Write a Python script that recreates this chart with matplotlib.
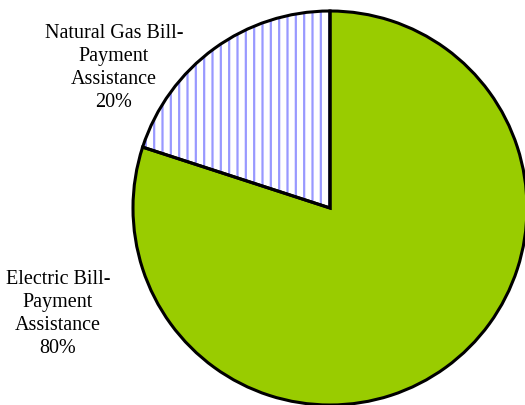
import matplotlib
matplotlib.use("Agg")
import matplotlib.pyplot as plt

# Share of bill-payment assistance by fuel type
categories = ["Natural Gas Bill-\nPayment\nAssistance", "Electric Bill-\nPayment\nAssistance"]
shares = [20, 80]

plt.rcParams["hatch.linewidth"] = 1.6

W, H = 525, 406
fig = plt.figure(figsize=(W / 100, H / 100), dpi=100)
ax = fig.add_axes([0, 0, 1, 1])

center = (330, H - 209)
radius = 197

# Filled wedges (hatch colour comes from the edge colour)
wedges, _ = ax.pie(shares, startangle=90, counterclock=True, center=center,
                   radius=radius, colors=["white", "#99CC00"],
                   wedgeprops=dict(linewidth=0, edgecolor="#9999FF"),
                   frame=True)
wedges[0].set_hatch("||")
wedges[1].set_edgecolor("#99CC00")

# Black outlines on top
ax.pie(shares, startangle=90, counterclock=True, center=center, radius=radius,
       colors=["none", "none"],
       wedgeprops=dict(linewidth=2.2, edgecolor="black", fill=False),
       frame=True)

ax.set_xlim(0, W)
ax.set_ylim(0, H)
ax.set_aspect("equal")
ax.axis("off")

label_pos = [(114, H - 68), (58, H - 314)]
font = dict(family="Liberation Serif", size=14.5, color="black")
for cat, val, (x, y) in zip(categories, shares, label_pos):
    ax.text(x, y, f"{cat}\n{val}%", ha="center", va="center",
            multialignment="center", linespacing=1.3, **font)

fig.savefig("out.png", dpi=100)
